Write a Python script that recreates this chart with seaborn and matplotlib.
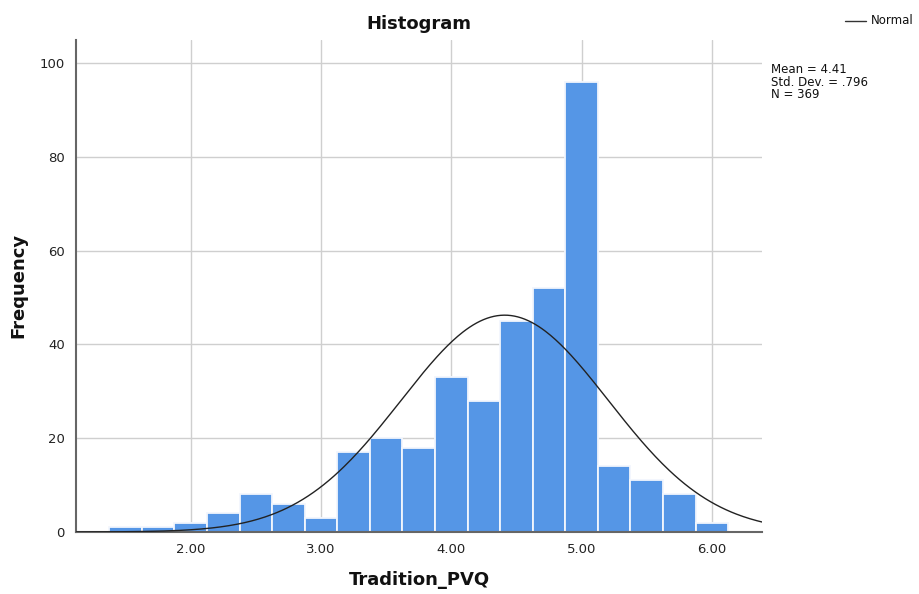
import numpy as np
import pandas as pd
import matplotlib
matplotlib.use("Agg")
import matplotlib.pyplot as plt
import seaborn as sns

# Data
bin_centers = [1.50, 1.75, 2.00, 2.25, 2.50, 2.75, 3.00, 3.25, 3.50, 3.75,
               4.00, 4.25, 4.50, 4.75, 5.00, 5.25, 5.50, 5.75, 6.00]
counts = [1, 1, 2, 4, 8, 6, 3, 17, 20, 18, 33, 28, 45, 52, 96, 14, 11, 8, 2]
bin_width = 0.25
mean_val = 4.41
sd_val = 0.796
n_val = 369
x_ticks = [2.0, 3.0, 4.0, 5.0, 6.0]
x_tick_labels = ["2.00", "3.00", "4.00", "5.00", "6.00"]
y_ticks = [0, 20, 40, 60, 80, 100]

sns.set_theme(style="white")
plt.rcParams['font.family'] = ['DejaVu Sans']

fig = plt.figure(figsize=(9.2, 5.94), dpi=100)
ax = fig.add_axes([0.0826, 0.1044, 0.7457, 0.829])

df = pd.DataFrame({"x": bin_centers, "w": counts})
sns.histplot(data=df, x="x", weights="w", binwidth=bin_width,
             binrange=(bin_centers[0] - bin_width / 2, bin_centers[-1] + bin_width / 2),
             ax=ax, color="#5596e6", alpha=1.0, edgecolor="#f2f6fd",
             linewidth=1.3, zorder=2)

xmin, xmax = 1.12, 6.385
xs = np.linspace(xmin, xmax, 400)
ys = n_val * bin_width / (sd_val * np.sqrt(2 * np.pi)) * np.exp(-0.5 * ((xs - mean_val) / sd_val) ** 2)
sns.lineplot(x=xs, y=ys, ax=ax, color="#222222", linewidth=1.0, zorder=3)

ax.set_xlim(xmin, xmax)
ax.set_ylim(0, 105)
ax.set_xticks(x_ticks)
ax.set_xticklabels(x_tick_labels)
ax.set_yticks(y_ticks)
ax.grid(True, color="#cfcfcf", linewidth=1.0, zorder=0)
ax.set_axisbelow(True)
for s in ["top", "right"]:
    ax.spines[s].set_visible(False)
for s in ["left", "bottom"]:
    ax.spines[s].set_color("#666666")
    ax.spines[s].set_linewidth(1.5)
ax.tick_params(axis="both", labelsize=9.5, colors="#222222", length=0, pad=8)

ax.set_xlabel("")
ax.set_ylabel("")
fig.text(0.4555, 1 - 580 / 594, "Tradition_PVQ", ha="center", va="center",
         fontsize=13, fontweight="bold", color="#111111")
fig.text(18 / 920, 1 - 285 / 594, "Frequency", rotation=90, ha="center",
         va="center", fontsize=13, fontweight="bold", color="#111111")
fig.text(0.4555, 1 - 24 / 594, "Histogram", ha="center", va="center",
         fontsize=13, fontweight="bold", color="#111111")

# Legend (top right, outside)
fig.add_artist(plt.Line2D([845 / 920, 866 / 920], [1 - 21 / 594, 1 - 21 / 594],
                          color="#333333", linewidth=1.0))
fig.text(871 / 920, 1 - 21 / 594, "Normal", ha="left", va="center", fontsize=8.5,
         color="#111111")

fig.text(771 / 920, 1 - 63 / 594,
         f"Mean = {mean_val:.2f}\nStd. Dev. = .796\nN = {n_val}",
         ha="left", va="top", fontsize=8.5, linespacing=0.95, color="#111111")

fig.savefig("out.png", dpi=100)
